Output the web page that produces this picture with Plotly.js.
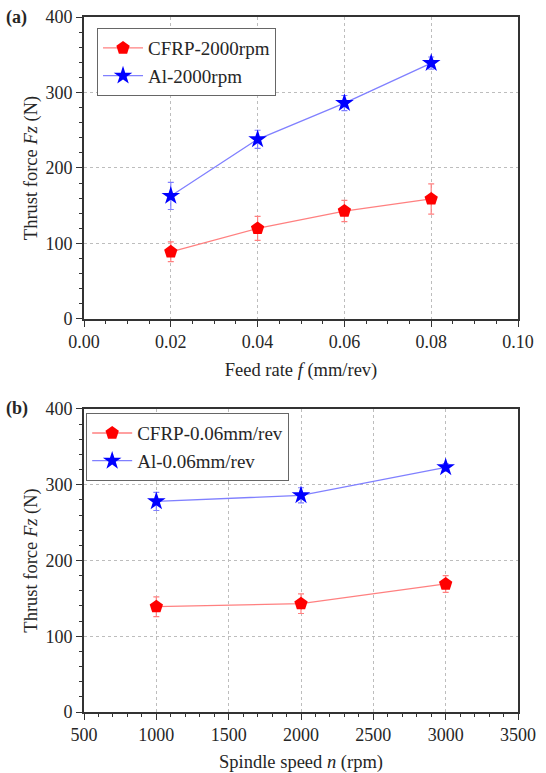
<!DOCTYPE html>
<html><head><meta charset="utf-8">
<script src="https://cdn.plot.ly/plotly-3.0.1.min.js"></script>
<style>body{margin:0;padding:0;background:#fff}#chart{width:546px;height:773px}</style>
</head><body><div id="chart"></div>
<script>
// Panel (a): thrust force vs feed rate at 2000 rpm
const feedRate = [0.02, 0.04, 0.06, 0.08];
const cfrpFeed = [89, 120, 143, 159];
const cfrpFeedErr = [13, 16, 14, 20];
const alFeed = [163, 238, 286, 339];
const alFeedErr = [18, 12, 10, 8];
// Panel (b): thrust force vs spindle speed at 0.06 mm/rev
const spindleSpeed = [1000, 2000, 3000];
const cfrpSpeed = [139, 143, 169];
const cfrpSpeedErr = [13, 13, 11];
const alSpeed = [278, 286, 323];
const alSpeedErr = [12, 10, 5];

const serif = "Liberation Serif";
const red = "#ff0000", blue = "#0000ff";
const redLine = "#ff8080", blueLine = "#8080ff";
const ink = "#262626";

function tr(x, y, err, name, sym, col, lcol, xa, ya, leg, size) {
  return {x: x, y: y, name: name, type: "scatter", mode: "lines+markers",
    xaxis: xa, yaxis: ya, legend: leg,
    line: {color: lcol, width: 1.3},
    marker: {symbol: sym, size: size, color: col, line: {width: 0}},
    error_y: {type: "data", array: err, visible: true, color: lcol, thickness: 1.2, width: 3}};
}

const data = [
  tr(feedRate, cfrpFeed, cfrpFeedErr, "CFRP-2000rpm", "pentagon", red, redLine, "x", "y", "legend", 14),
  tr(feedRate, alFeed, alFeedErr, "Al-2000rpm", "star", blue, blueLine, "x", "y", "legend", 14),
  tr(spindleSpeed, cfrpSpeed, cfrpSpeedErr, "CFRP-0.06mm/rev", "pentagon", red, redLine, "x2", "y2", "legend2", 14),
  tr(spindleSpeed, alSpeed, alSpeedErr, "Al-0.06mm/rev", "star", blue, blueLine, "x2", "y2", "legend2", 14)
];

const axCommon = {
  showline: true, linecolor: "#333", linewidth: 1.8, mirror: true,
  ticks: "outside", ticklen: 6, tickwidth: 1, tickcolor: "#333",
  showgrid: true, gridcolor: "#bdbdbd", griddash: "dot", gridwidth: 1,
  zeroline: false,
  tickfont: {family: serif, size: 18, color: ink},
  minor: {ticks: "outside", ticklen: 3, tickcolor: "#333", showgrid: false}
};
const titleFont = {family: serif, size: 18.5, color: ink};

const legCommon = {
  bgcolor: "#fff", bordercolor: "#666", borderwidth: 1,
  font: {family: serif, size: 19, color: ink},
  xanchor: "left", yanchor: "top", tracegroupgap: 0, itemwidth: 40
};

const layout = {
  width: 546, height: 773,
  margin: {l: 84, r: 28, t: 17, b: 61},
  paper_bgcolor: "#fff", plot_bgcolor: "#fff",
  showlegend: true,
  xaxis: Object.assign({}, axCommon, {domain: [0, 1], anchor: "y", range: [0, 0.1], dtick: 0.02, tickformat: ".2f",
    title: {text: "Feed rate <i>f</i> (mm/rev)", font: titleFont, standoff: 12}}),
  yaxis: Object.assign({}, axCommon, {domain: [0.5655, 1], anchor: "x", range: [0, 400], dtick: 100,
    title: {text: "Thrust force <i>Fz</i> (N)", font: titleFont, standoff: 3}}),
  xaxis2: Object.assign({}, axCommon, {domain: [0, 1], anchor: "y2", range: [500, 3500], dtick: 500,
    title: {text: "Spindle speed <i>n</i> (rpm)", font: titleFont, standoff: 12}}),
  yaxis2: Object.assign({}, axCommon, {domain: [0, 0.436], anchor: "x2", range: [0, 400], dtick: 100,
    title: {text: "Thrust force <i>Fz</i> (N)", font: titleFont, standoff: 3}}),
  legend: Object.assign({}, legCommon, {x: 0.03, y: 0.984}),
  legend2: Object.assign({}, legCommon, {x: 0.005, y: 0.43}),
  annotations: [
    {text: "<b>(a)</b>", xref: "paper", yref: "paper", x: -0.185, y: 1.0, xanchor: "left", yanchor: "middle",
     showarrow: false, font: {family: serif, size: 18, color: ink}},
    {text: "<b>(b)</b>", xref: "paper", yref: "paper", x: -0.185, y: 0.436, xanchor: "left", yanchor: "middle",
     showarrow: false, font: {family: serif, size: 18, color: ink}}
  ]
};

Plotly.newPlot("chart", data, layout, {displayModeBar: false, staticPlot: true});
</script></body></html>
